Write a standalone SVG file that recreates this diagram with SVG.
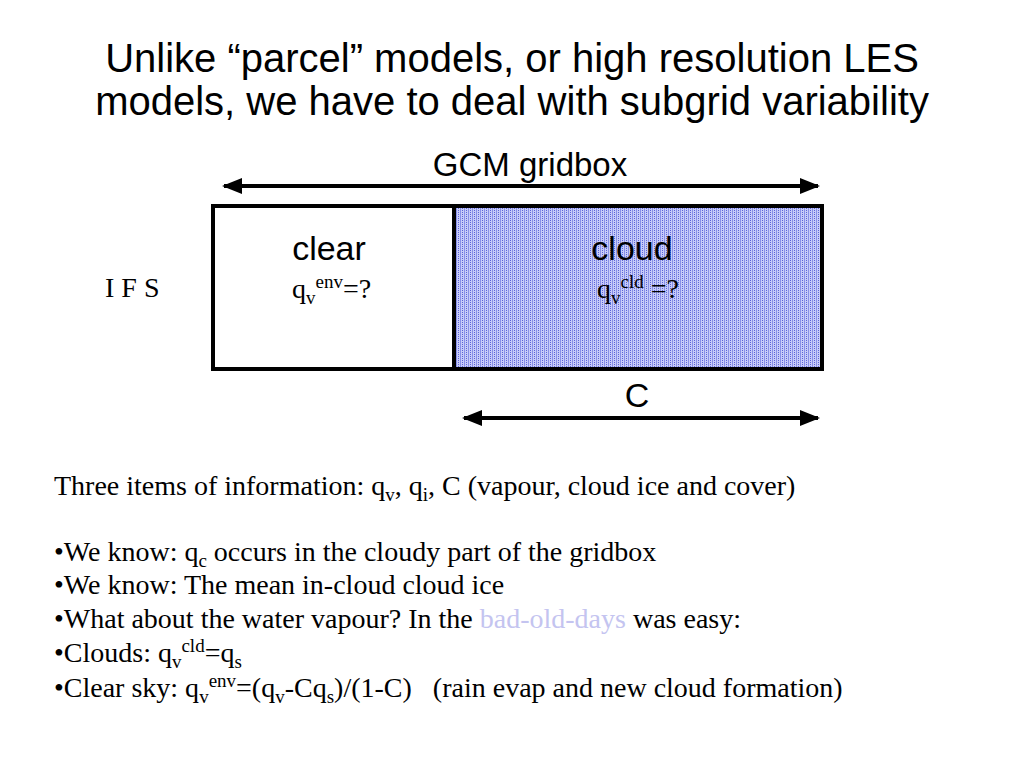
<svg xmlns="http://www.w3.org/2000/svg" width="1024" height="768" viewBox="0 0 1024 768">
<defs>
<pattern id="dots" width="4" height="4" patternUnits="userSpaceOnUse">
<rect width="4" height="4" fill="#c8ccf8"/>
<rect x="0" y="0" width="1" height="4" fill="#8890e8"/>
<rect x="2" y="0" width="1" height="1" fill="#5a62d8"/>
<rect x="2" y="2" width="1" height="1" fill="#5a62d8"/>
</pattern>
<marker id="ah" viewBox="0 0 10 10" refX="9" refY="5" markerWidth="5" markerHeight="5" orient="auto-start-reverse" markerUnits="strokeWidth">
<path d="M0,1 L10,5 L0,9 z" fill="#000"/>
</marker>
<style>
.title{font-family:"Liberation Sans",Arial,sans-serif;font-size:40px;fill:#000;text-anchor:middle}
.lab{font-family:"Liberation Sans",Arial,sans-serif;font-size:34px;fill:#000;text-anchor:middle}
.tm{font-family:"Liberation Serif","Times New Roman",serif;font-size:28px;fill:#000}
.sub{font-size:19px}
.arr{stroke:#000;stroke-width:4;fill:none}
</style>
</defs>
<rect width="1024" height="768" fill="#fff"/>
<g id="title">
<text class="title" x="512" y="72">Unlike “parcel” models, or high resolution LES</text>
<text class="title" x="512" y="115">models, we have to deal with subgrid variability</text>
</g>
<g id="gridbox">
<rect x="454" y="207" width="368" height="161" fill="url(#dots)"/>
<rect x="213" y="206" width="609" height="163" fill="none" stroke="#000" stroke-width="4"/>
<line x1="454" y1="206" x2="454" y2="369" stroke="#000" stroke-width="4"/>
</g>
<g id="clear">
<text class="lab" x="329" y="260">clear</text>
<text class="tm" x="292" y="298">q<tspan class="sub" dy="6">v</tspan><tspan class="sub" dy="-16">env</tspan><tspan dy="10">=?</tspan></text>
</g>
<g id="cloud">
<text class="lab" x="632" y="260">cloud</text>
<text class="tm" x="597" y="298">q<tspan class="sub" dy="6">v</tspan><tspan class="sub" dy="-16">cld</tspan><tspan dy="10"> =?</tspan></text>
</g>
<g id="ifs">
<text class="tm" x="105" y="297">I F S</text>
</g>
<g id="gcm-label">
<text class="lab" x="530" y="176" style="font-size:33px">GCM gridbox</text>
</g>
<g id="c-label">
<text class="lab" x="637" y="407">C</text>
</g>
<g id="connectors">
<line class="arr" x1="224" y1="186" x2="818" y2="186" marker-start="url(#ah)" marker-end="url(#ah)"/>
<line class="arr" x1="464" y1="418" x2="818" y2="418" marker-start="url(#ah)" marker-end="url(#ah)"/>
</g>
<g id="notes">
<text class="tm" x="54" y="495">Three items of information: q<tspan class="sub" dy="6">v</tspan><tspan dy="-6">, q</tspan><tspan class="sub" dy="6">i</tspan><tspan dy="-6">, C (vapour, cloud ice and cover)</tspan></text>
<text class="tm" x="54" y="561">•We know: q<tspan class="sub" dy="6">c</tspan><tspan dy="-6"> occurs in the cloudy part of the gridbox</tspan></text>
<text class="tm" x="54" y="594">•We know: The mean in-cloud cloud ice</text>
<text class="tm" x="54" y="628">•What about the water vapour? In the <tspan fill="#c4c4f0">bad-old-days</tspan> was easy:</text>
<text class="tm" x="54" y="662">•Clouds: q<tspan class="sub" dy="6">v</tspan><tspan class="sub" dy="-16">cld</tspan><tspan dy="10">=q</tspan><tspan class="sub" dy="6">s</tspan></text>
<text class="tm" x="54" y="697">•Clear sky: q<tspan class="sub" dy="6">v</tspan><tspan class="sub" dy="-16">env</tspan><tspan dy="10">=(q</tspan><tspan class="sub" dy="6">v</tspan><tspan dy="-6">-Cq</tspan><tspan class="sub" dy="6">s</tspan><tspan dy="-6" xml:space="preserve">)/(1-C)   (rain evap and new cloud formation)</tspan></text>
</g>
</svg>
